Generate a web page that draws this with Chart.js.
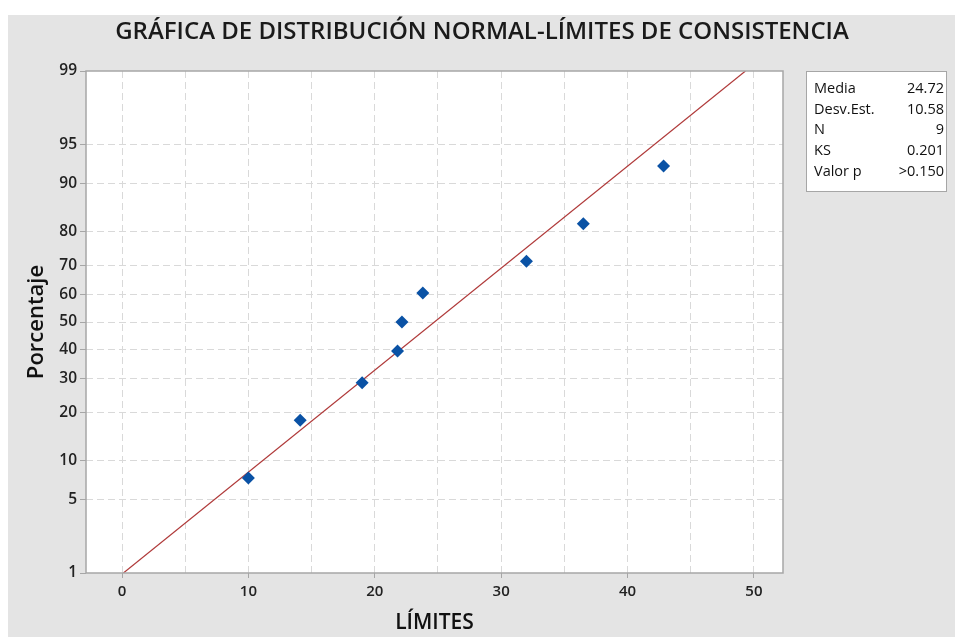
<!DOCTYPE html>
<html>
<head>
<meta charset="utf-8">
<script src="https://cdn.jsdelivr.net/npm/chart.js@4.4.0/dist/chart.umd.min.js"></script>
<style>
  html, body { margin: 0; padding: 0; background: #ffffff; }
  #wrap { position: relative; width: 955px; height: 637px; }
  canvas { display: block; }
</style>
</head>
<body>
<div id="wrap"><canvas id="c" width="955" height="637"></canvas></div>
<script>
// ---- data ----
const chartTitle = 'GRÁFICA DE DISTRIBUCIÓN NORMAL-LÍMITES DE CONSISTENCIA';
const xTitle = 'LÍMITES';
const yTitle = 'Porcentaje';
const xValues = [10.0, 14.1, 19.0, 21.8, 22.15, 23.8, 32.0, 36.5, 42.85];
const pctValues = [7.4, 18.1, 28.7, 39.4, 50.0, 60.6, 71.3, 81.9, 92.6];
const fitLineX = [0.11, 49.33];
const fitLinePct = [1, 99];
const yTickPct = [1, 5, 10, 20, 30, 40, 50, 60, 70, 80, 90, 95, 99];
const xTickVals = [0, 5, 10, 15, 20, 25, 30, 35, 40, 45, 50];
const statLabels = ['Media', 'Desv.Est.', 'N', 'KS', 'Valor p'];
const statValues = ['24.72', '10.58', '9', '0.201', '>0.150'];

// inverse standard normal CDF (probability-paper axis transform)
function probit(p) {
  const a = [-3.969683028665376e+01, 2.209460984245205e+02, -2.759285104469687e+02, 1.383577518672690e+02, -3.066479806614716e+01, 2.506628277459239e+00];
  const b = [-5.447609879822406e+01, 1.615858368580409e+02, -1.556989798598866e+02, 6.680131188771972e+01, -1.328068155288572e+01];
  const c = [-7.784894002430293e-03, -3.223964580411365e-01, -2.400758277161838e+00, -2.549732539343734e+00, 4.374664141464968e+00, 2.938163982698783e+00];
  const d = [7.784695709041462e-03, 3.224671290700398e-01, 2.445134137142996e+00, 3.754408661907416e+00];
  const pl = 0.02425, ph = 1 - pl;
  let q, r;
  if (p < pl) {
    q = Math.sqrt(-2 * Math.log(p));
    return (((((c[0]*q+c[1])*q+c[2])*q+c[3])*q+c[4])*q+c[5]) / ((((d[0]*q+d[1])*q+d[2])*q+d[3])*q+1);
  } else if (p <= ph) {
    q = p - 0.5; r = q * q;
    return (((((a[0]*r+a[1])*r+a[2])*r+a[3])*r+a[4])*r+a[5])*q / (((((b[0]*r+b[1])*r+b[2])*r+b[3])*r+b[4])*r+1);
  } else {
    q = Math.sqrt(-2 * Math.log(1 - p));
    return -(((((c[0]*q+c[1])*q+c[2])*q+c[3])*q+c[4])*q+c[5]) / ((((d[0]*q+d[1])*q+d[2])*q+d[3])*q+1);
  }
}
const z = pct => probit(pct / 100);

const pointData = xValues.map((x, i) => ({ x: x, y: z(pctValues[i]) }));
const lineData = fitLineX.map((x, i) => ({ x: x, y: z(fitLinePct[i]) }));

const FONT = "'Open Sans', 'Noto Sans', sans-serif";

const framePlugin = {
  id: 'frame',
  beforeDraw(chart) {
    const ctx = chart.ctx;
    ctx.save();
    ctx.fillStyle = '#ffffff';
    ctx.fillRect(0, 0, chart.width, chart.height);
    ctx.fillStyle = '#e4e4e4';
    ctx.fillRect(8, 15, chart.width - 8, chart.height - 15);
    const a = chart.chartArea;
    ctx.fillStyle = '#ffffff';
    ctx.fillRect(a.left, a.top, a.right - a.left, a.bottom - a.top);
    ctx.restore();
  },
  afterDraw(chart) {
    const ctx = chart.ctx;
    const a = chart.chartArea;
    ctx.save();
    // plot frame
    ctx.strokeStyle = '#a6a6a6';
    ctx.lineWidth = 1.5;
    ctx.strokeRect(a.left, a.top, a.right - a.left, a.bottom - a.top);
    // title
    ctx.fillStyle = '#1a1a1a';
    ctx.font = "600 24px " + FONT;
    ctx.textAlign = 'center';
    ctx.textBaseline = 'middle';
    ctx.fillText(chartTitle, 482, 32);
    // stats box
    const bx = 806, by = 71, bw = 140, bh = 120;
    ctx.fillStyle = '#ffffff';
    ctx.fillRect(bx, by, bw, bh);
    ctx.strokeStyle = '#a6a6a6';
    ctx.lineWidth = 1;
    ctx.strokeRect(bx + 0.5, by + 0.5, bw, bh);
    ctx.fillStyle = '#111111';
    ctx.font = "14.5px " + FONT;
    statLabels.forEach((lab, i) => {
      const yy = 89 + i * 20.6;
      ctx.textAlign = 'left';
      ctx.fillText(lab, 814, yy);
      ctx.textAlign = 'right';
      ctx.fillText(statValues[i], 944, yy);
    });
    ctx.restore();
  }
};

new Chart(document.getElementById('c'), {
  type: 'scatter',
  data: {
    datasets: [
      {
        type: 'line',
        label: 'Ajuste',
        data: lineData,
        borderColor: '#b03a3a',
        borderWidth: 1.2,
        pointRadius: 0,
        fill: false,
        order: 2
      },
      {
        label: 'Datos',
        data: pointData,
        backgroundColor: '#0a52a5',
        borderColor: '#0a52a5',
        pointStyle: 'rectRot',
        pointRadius: 6.5,
        pointHoverRadius: 6.5,
        borderWidth: 0,
        order: 1
      }
    ]
  },
  plugins: [framePlugin],
  options: {
    responsive: false,
    animation: false,
    events: [],
    layout: { padding: { left: 8, top: 71, right: 172, bottom: 0 } },
    plugins: {
      legend: { display: false },
      title: { display: false },
      tooltip: { enabled: false }
    },
    scales: {
      x: {
        type: 'linear',
        min: -2.85,
        max: 52.3,
        afterBuildTicks(scale) { scale.ticks = xTickVals.map(v => ({ value: v })); },
        afterFit(scale) { scale.height = 64; },
        ticks: {
          autoSkip: false,
          maxRotation: 0,
          padding: 5,
          color: '#222222',
          font: { family: FONT, size: 15, weight: '600' },
          callback: v => (v % 10 === 0 ? String(v) : '')
        },
        grid: {
          color: '#d9d9d9',
          lineWidth: 1,
          tickLength: 5,
          tickColor: ctx => (ctx.tick && ctx.tick.value % 10 === 0 ? '#a6a6a6' : 'rgba(0,0,0,0)'),
          tickBorderDash: []
        },
        border: { display: false, dash: [7, 4] },
        title: {
          display: true,
          text: xTitle,
          color: '#111111',
          font: { family: FONT, size: 21, weight: '600' },
          padding: { top: 2, bottom: 1 }
        }
      },
      y: {
        type: 'linear',
        min: z(1),
        max: z(99),
        afterBuildTicks(scale) { scale.ticks = yTickPct.map(p => ({ value: z(p) })); },
        afterFit(scale) { scale.width = 78; },
        ticks: {
          autoSkip: false,
          padding: 3,
          color: '#222222',
          font: { family: FONT, size: 15.5, weight: '600' },
          callback: (v, i) => String(yTickPct[i])
        },
        grid: {
          color: ctx => (ctx.index === 0 || ctx.index === yTickPct.length - 1 ? 'rgba(0,0,0,0)' : '#d9d9d9'),
          lineWidth: 1,
          tickLength: 6,
          tickColor: '#a6a6a6',
          tickBorderDash: []
        },
        border: { display: false, dash: [7, 4] },
        title: {
          display: true,
          text: yTitle,
          color: '#111111',
          font: { family: FONT, size: 22, weight: '600' },
          padding: { top: 16, bottom: 0 }
        }
      }
    }
  }
});
</script>
</body>
</html>
